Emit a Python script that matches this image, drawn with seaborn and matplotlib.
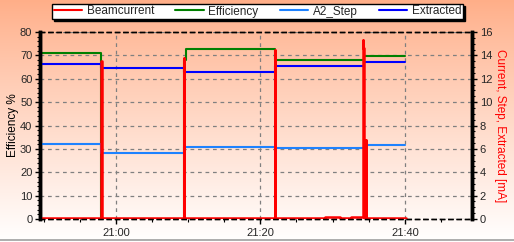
import numpy as np
import pandas as pd
import matplotlib
matplotlib.use("Agg")
import matplotlib.pyplot as plt
import matplotlib.dates as mdates
from matplotlib.lines import Line2D
import seaborn as sns

# ---------------- data ----------------
day = "2024-01-01 "
eff_times = ["20:49:30", "20:58:00", "21:09:25", "21:09:40", "21:22:05", "21:34:20", "21:40:00"]
eff_vals = [71.2, 0.0, 68.0, 72.6, 67.9, 69.7, 69.7]

ext_times = ["20:49:30", "20:57:55", "21:09:25", "21:22:05", "21:34:20", "21:40:00"]
ext_vals = [13.23, 12.9, 12.55, 13.06, 13.4, 13.4]

step_times = ["20:49:30", "20:58:00", "21:09:30", "21:22:05", "21:34:30", "21:40:00"]
step_vals = [6.39, 5.62, 6.19, 6.05, 6.3, 6.3]

beam_times = ["20:49:30", "20:57:58", "20:58:02", "21:09:22", "21:09:26",
              "21:22:00", "21:22:04", "21:26:40", "21:28:00", "21:29:00",
              "21:31:00", "21:32:30", "21:34:12", "21:34:16", "21:34:20",
              "21:34:36", "21:34:38", "21:40:10"]
beam_vals = [0.08, 13.5, 0.05, 13.8, 0.05,
             14.5, 0.05, 0.12, 0.08, 0.14,
             0.1, 0.14, 15.3, 14.6, 0.1,
             6.8, 0.12, 0.12]

legend_labels = ["Beamcurrent", "Efficiency", "A2_Step", "Extracted"]
colors = {"Beamcurrent": "#FF0000", "Efficiency": "#008000",
          "A2_Step": "#1E82FF", "Extracted": "#0000FF"}

def to_dt(ts):
    return pd.to_datetime([day + t for t in ts])

# ---------------- figure ----------------
sns.set_style("white")
plt.rcParams["font.family"] = ["Liberation Sans", "DejaVu Sans"]

fig = plt.figure(figsize=(5.14, 2.42), dpi=100)

# background gradient
bg = fig.add_axes([0, 0, 1, 1], zorder=-10)
n = 256
top = np.array([255, 174, 136]) / 255.0
bot = np.array([255, 255, 255]) / 255.0
t = np.linspace(0, 1, n)[:, None] ** 0.9
grad = top * (1 - t) + bot * t
img = np.repeat(grad[:, None, :], 2, axis=1)
bg.imshow(img, aspect="auto", extent=[0, 1, 0, 1], origin="upper")
bg.set_axis_off()
fig.add_artist(Line2D([0, 1], [2.5 / 242, 2.5 / 242], color="#A0A0A0", lw=1.2,
                      transform=fig.transFigure))

ax = fig.add_axes([40 / 514, 1 - 219 / 242, 432 / 514, 187 / 242])
ax.patch.set_alpha(0)
ax2 = ax.twinx()
ax2.patch.set_alpha(0)

sns.lineplot(x=to_dt(eff_times), y=eff_vals, ax=ax, color=colors["Efficiency"],
             lw=1.5, drawstyle="steps-post", estimator=None)
sns.lineplot(x=to_dt(step_times), y=step_vals, ax=ax2, color=colors["A2_Step"],
             lw=1.5, drawstyle="steps-post", estimator=None)
sns.lineplot(x=to_dt(ext_times), y=ext_vals, ax=ax2, color=colors["Extracted"],
             lw=1.5, drawstyle="steps-post", estimator=None)
sns.lineplot(x=to_dt(beam_times), y=beam_vals, ax=ax2, color=colors["Beamcurrent"],
             lw=1.8, drawstyle="steps-post", estimator=None)

xmin = pd.Timestamp(day + "20:49:30")
xmax = pd.Timestamp(day + "21:49:18")
ax.set_xlim(xmin, xmax)
ax.set_ylim(0, 80)
ax2.set_ylim(0, 16)

ax.xaxis.set_major_locator(mdates.MinuteLocator(byminute=[0, 20, 40]))
ax.xaxis.set_minor_locator(mdates.MinuteLocator(byminute=range(0, 60, 5)))
ax.xaxis.set_major_formatter(mdates.DateFormatter("%H:%M"))
ax.set_yticks(np.arange(0, 81, 10))
ax.set_yticks(np.arange(0, 81, 2), minor=True)
ax2.set_yticks(np.arange(0, 17, 2))
ax2.set_yticks(np.arange(0, 16.1, 0.5), minor=True)

ax.grid(True, which="major", color="#808080", ls=(0, (3, 3)), lw=0.9)
ax2.grid(False)
ax.set_axisbelow(True)

for a in (ax, ax2):
    a.tick_params(which="major", length=3.5, width=1, color="black", labelsize=8, pad=2)
    a.tick_params(which="minor", length=2, width=0.8, color="black")
ax.tick_params(axis="x", which="both", bottom=True, direction="out", pad=3)
ax.tick_params(axis="y", which="both", left=True, direction="out")
ax2.tick_params(axis="y", which="both", right=True, direction="out")

for a in (ax, ax2):
    a.spines["left"].set_linewidth(2.5)
    a.spines["right"].set_linewidth(2.5)
    a.spines["left"].set_color("black")
    a.spines["right"].set_color("black")
    a.spines["top"].set_linestyle((0, (3, 3)))
    a.spines["bottom"].set_linestyle((0, (3, 3)))
    a.spines["top"].set_linewidth(1)
    a.spines["bottom"].set_linewidth(1)
    a.spines["top"].set_color("black")
    a.spines["bottom"].set_color("black")
    a.spines["top"].set_visible(True)
    a.spines["bottom"].set_visible(True)

ax.set_xlabel("")
ax.set_ylabel("Efficiency %", fontsize=8.5, color="black", labelpad=1)
ax2.set_ylabel("Current, Step, Extracted [mA]", fontsize=8.5, color="#FF0000",
               rotation=270, labelpad=10)

handles = [Line2D([], [], color=colors[k], lw=1.5) for k in legend_labels]
leg = fig.legend(handles, legend_labels, loc="center", ncol=4, mode="expand",
                 bbox_to_anchor=(52 / 514, 1 - 20 / 242, 411 / 514, 17 / 242),
                 fontsize=8.5, frameon=True, fancybox=False, framealpha=1,
                 edgecolor="black", facecolor="white", handlelength=2.4,
                 borderpad=0.15, handletextpad=0.4, borderaxespad=0,
                 shadow={"color": "black", "alpha": 1, "ox": 1.5, "oy": -1.5})
leg.get_frame().set_linewidth(1)

fig.savefig("out.png", dpi=100)
